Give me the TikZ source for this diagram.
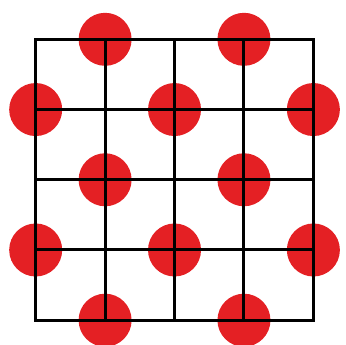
\documentclass[tikz,border=0pt]{standalone}
\usepackage{xcolor}
\usepackage{tikz}

\definecolor{dotred}{RGB}{228,32,36}

\begin{document}
\begin{tikzpicture}[
        x=69.4pt, y=-70.2pt,
        dot/.style={fill=dotred},
        gridline/.style={line width=3pt, black},
    ]
    % canvas size
    \useasboundingbox (-0.514,-0.56) rectangle (4.47,4.34);

    % Red dots on every other grid point
    \foreach \c/\r in {1/0,3/0,0/1,2/1,4/1,1/2,3/2,0/3,2/3,4/3,1/4,3/4} {
        \fill[dot] (\c,\r) circle[radius=26.5pt];
    }

    % 4x4 grid on top of the dots
    \foreach \i in {0,...,4} {
        \draw[gridline] (\i,0) -- (\i,4);
        \draw[gridline] (0,\i) -- (4,\i);
    }
    \draw[gridline, line cap=rect] (0,0) rectangle (4,4);
\end{tikzpicture}
\end{document}
